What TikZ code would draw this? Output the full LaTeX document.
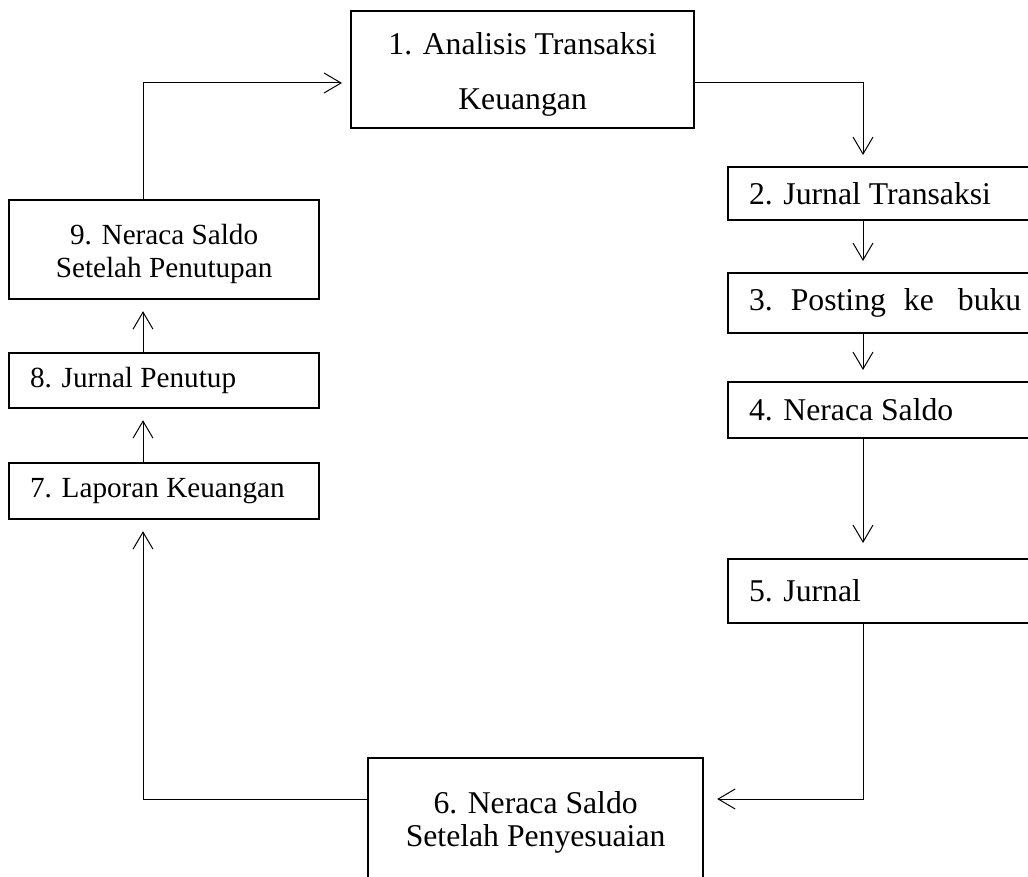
\documentclass[tikz,border=0pt]{standalone}
\usepackage{fontspec}
\setmainfont{Liberation Serif}
\usetikzlibrary{arrows.meta}

\begin{document}
\begin{tikzpicture}[x=0.5pt, y=-0.5pt,
  box/.style = {draw, line width=1.1pt, anchor=north west, inner sep=0pt,
    font=\fontsize{15.85pt}{16.5pt}\selectfont},
  midbox/.style = {box, align=center},
  leftbox/.style = {box, minimum width=155pt, inner xsep=10.5pt, text width=134pt, align=flush left,
    font=\fontsize{14.6pt}{16.5pt}\selectfont},
  rightbox/.style = {box, minimum width=170pt, inner xsep=10.5pt, text width=149pt, align=flush left},
  flow/.style = {line width=0.5pt, -{Straight Barb[length=8.5pt, width=10pt]}, shorten >=5.5pt}]
\useasboundingbox (0,0) rectangle (1028,877);
\clip (0,0) rectangle (1028,877);
% the cycle boxes
\node[midbox, minimum width=171.5pt, minimum height=58.5pt,
  font=\fontsize{15.85pt}{27.5pt}\selectfont] (1) at (350,10) {\rule{0pt}{15.8pt}1. Analisis Transaksi\\Keuangan};
\node[rightbox, minimum height=26.5pt] (2) at (727,166) {2. Jurnal Transaksi};
\node[rightbox, minimum height=30pt] (3) at (727,272) {3.\hspace{9pt}Posting\hspace{9pt}ke\hspace{12pt}buku};
\node[rightbox, minimum height=28pt] (4) at (727,381) {4. Neraca Saldo};
\node[rightbox, minimum height=32pt] (5) at (727,558) {5. Jurnal};
\node[midbox, minimum width=167.5pt, minimum height=64pt] (6) at (367,757) {6. Neraca Saldo\\Setelah Penyesuaian};
\node[leftbox, minimum height=28pt] (7) at (8,462) {7. Laporan Keuangan};
\node[leftbox, minimum height=27.5pt] (8) at (8,352) {8. Jurnal Penutup};
\node[midbox, minimum width=155pt, minimum height=49.5pt,
  font=\fontsize{14.6pt}{16.5pt}\selectfont] (9) at (8,199) {\rule{0pt}{15pt}9. Neraca Saldo\\Setelah Penutupan};
% corners of the loop
\coordinate (rx) at (863,83);
\coordinate (lx) at (143,83);
\coordinate (rb) at (863,799);
\coordinate (lb) at (143,799);
\draw[flow] (1.east |- rx) -- (rx) -- (2.north -| rx);
\draw[flow] (2.south -| rx) -- (3.north -| rx);
\draw[flow] (3.south -| rx) -- (4.north -| rx);
\draw[flow, shorten >=7.5pt] (4.south -| rx) -- (5.north -| rx);
\draw[flow, shorten >=6.5pt] (5.south -| rx) -- (rb) -- (6.east |- rb);
\draw[flow] (6.west |- rb) -- (lb) -- (7.south -| lb);
\draw[flow] (7.north -| lb) -- (8.south -| lb);
\draw[flow] (8.north -| lb) -- (9.south -| lb);
\draw[flow, shorten >=4pt] (9.north -| lb) -- (lx) -- (1.west |- lx);
\end{tikzpicture}
\end{document}
